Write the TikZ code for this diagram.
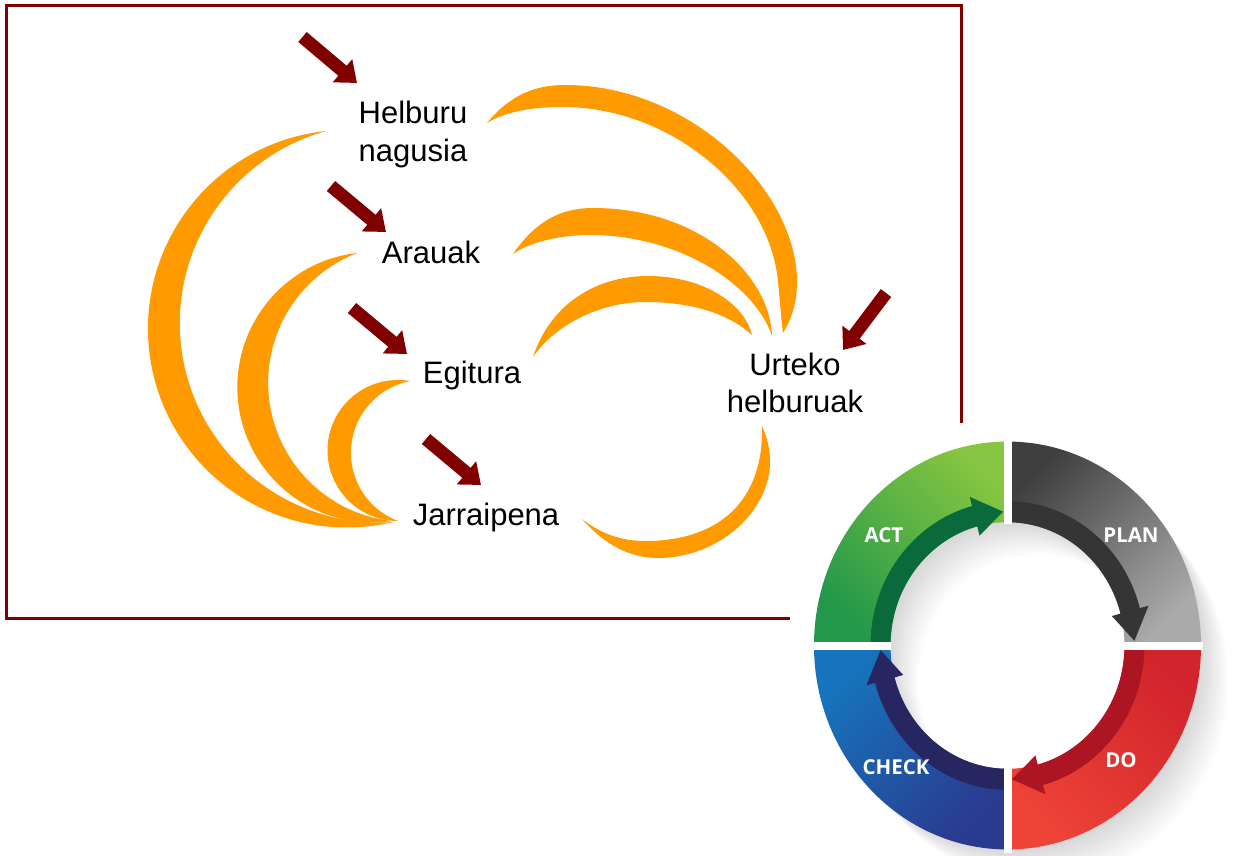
\documentclass[tikz,border=0pt]{standalone}
\usepackage{fontspec}
\setmainfont{Liberation Sans}
\newfontfamily\pdcafont{Open Sans}
\usetikzlibrary{arrows.meta}
\definecolor{maroonline}{RGB}{128,0,0}
\definecolor{crescent}{RGB}{255,155,0}
\definecolor{actlight}{HTML}{86C541}
\definecolor{actdarkg}{HTML}{23984A}
\definecolor{actarrow}{HTML}{0A6A3B}
\definecolor{planlight}{HTML}{AAAAAA}
\definecolor{plandark}{HTML}{3F3F3F}
\definecolor{planarrow}{HTML}{353535}
\definecolor{dolight}{HTML}{EE4337}
\definecolor{dodark}{HTML}{D2242C}
\definecolor{doarrow}{HTML}{AC1521}
\definecolor{checklight}{HTML}{1774BC}
\definecolor{checkdark}{HTML}{2A3A8F}
\definecolor{checkarrow}{HTML}{282660}
\tikzset{
  lbl/.style={font=\fontsize{31}{37.5}\selectfont, inner sep=0pt, text=black},
  marrow/.style={draw=maroonline, line width=13pt, -{Triangle[length=19pt, width=29pt]}},
  cres/.style={fill=crescent},
  pdca/.style={font=\pdcafont\bfseries\fontsize{20.5}{24}\selectfont, text=white, inner sep=0pt},
}
\begin{document}
\begin{tikzpicture}[x=1pt,y=-1pt]
\useasboundingbox (0,0) rectangle (1245,856);
\fill[white] (0,0) rectangle (1245,856);
% frame
\draw[maroonline, line width=3pt] (6.5,5.5) rectangle (961,618.5);
% crescents left
\fill[cres] (326,131) arc[start angle=264, end angle=76.5, radius=198.8] -- (393,522) arc[start angle=86, end angle=254.5, radius=199.3] -- cycle;
\fill[cres] (357,253) arc[start angle=263.4, end angle=81.7, radius=135.2] -- (392,521) arc[start angle=96.3, end angle=248.8, radius=139.1] -- cycle;
\fill[cres] (410,381) arc[start angle=279.8, end angle=90, radius=70.5] -- (398,521) arc[start angle=110.8, end angle=259, radius=73] -- cycle;
% crescents right
\fill[cres] (487,123) .. controls (510,95) and (535,85) .. (565,85) .. controls (690,85) and (797,190) .. (797,282) .. controls (797,305) and (790,322) .. (783,333)
  .. controls (781,318) and (780,300) .. (778,282) .. controls (770,190) and (670,107) .. (563,107) .. controls (530,107) and (505,112) .. (487,123) -- cycle;
\fill[cres] (513,254) .. controls (535,222) and (560,208) .. (593,208) .. controls (700,208) and (770,275) .. (772,336)
  .. controls (755,285) and (680,235) .. (590,235) .. controls (560,235) and (530,242) .. (513,254) -- cycle;
\fill[cres] (533,357) .. controls (550,305) and (595,276) .. (648,276) .. controls (705,276) and (745,305) .. (752,335)
  .. controls (730,315) and (695,302) .. (645,302) .. controls (600,302) and (555,325) .. (533,357) -- cycle;
\fill[cres] (582,519) .. controls (605,545) and (630,558) .. (658,558) .. controls (720,558) and (770,510) .. (770,462) .. controls (770,448) and (767,437) .. (762,426)
  .. controls (764,500) and (720,541) .. (645,541) .. controls (620,541) and (600,533) .. (582,519) -- cycle;
% labels
\node[lbl, align=center, anchor=north] (helburu) at (413,101) {Helburu\\nagusia};
\node[lbl, anchor=base] (arauak) at (431,263) {Arauak};
\node[lbl, anchor=base] (egitura) at (472,383.3) {Egitura};
\node[lbl, anchor=base] (jarraipena) at (486,525) {Jarraipena};
\node[lbl, align=center, anchor=north] (urteko) at (795,352.8) {Urteko\\helburuak};
% maroon arrows
\coordinate (a1s) at (302.5,37);  \coordinate (a1e) at (357,83);
\coordinate (a2s) at (331,186);   \coordinate (a2e) at (386,232);
\coordinate (a3s) at (352,308);   \coordinate (a3e) at (407,354);
\coordinate (a4s) at (426,439);   \coordinate (a4e) at (481,485);
\coordinate (a5s) at (886,293);   \coordinate (a5e) at (843,350);
\draw[marrow] (a1s) -- (a1e);
\draw[marrow] (a2s) -- (a2e);
\draw[marrow] (a3s) -- (a3e);
\draw[marrow] (a4s) -- (a4e);
\draw[marrow] (a5s) -- (a5e);
% PDCA picture area
\fill[white] (790,423) rectangle (1245,856);
\begin{scope}[shift={(1007.5,645.5)}, x=1pt, y=1.054pt]
  \foreach \k in {1,...,14}{
    \fill[black, opacity=0.011, even odd rule, shift={(2.2*\k,-2.4*\k)}] (0,0) circle[radius=190] (0,0) circle[radius=120];
  }
  \path[top color=actlight, bottom color=actdarkg, shading angle=-45]
    (90:193.5) arc[start angle=90, end angle=180, radius=193.5] -- (180:117) arc[start angle=180, end angle=90, radius=117] -- cycle;
  \path[top color=planlight, bottom color=plandark, shading angle=-135]
    (0:193.5) arc[start angle=0, end angle=90, radius=193.5] -- (90:117) arc[start angle=90, end angle=0, radius=117] -- cycle;
  \path[top color=dodark, bottom color=dolight, shading angle=-45]
    (270:193.5) arc[start angle=270, end angle=360, radius=193.5] -- (0:117) arc[start angle=360, end angle=270, radius=117] -- cycle;
  \path[top color=checklight, bottom color=checkdark, shading angle=45]
    (180:193.5) arc[start angle=180, end angle=270, radius=193.5] -- (270:117) arc[start angle=270, end angle=180, radius=117] -- cycle;
  % inner arrows
  \fill[actarrow] (180:137) arc[start angle=180, end angle=105, radius=137] -- (105:146) -- (92:127) -- (105:108) -- (105:117) arc[start angle=105, end angle=180, radius=117] -- cycle;
  \fill[planarrow] (90:137) arc[start angle=90, end angle=15, radius=137] -- (15:146) -- (2:127) -- (15:108) -- (15:117) arc[start angle=15, end angle=90, radius=117] -- cycle;
  \fill[doarrow] (0:137) arc[start angle=0, end angle=-75, radius=137] -- (-75:146) -- (-88:127) -- (-75:108) -- (-75:117) arc[start angle=-75, end angle=0, radius=117] -- cycle;
  \fill[checkarrow] (-90:137) arc[start angle=-90, end angle=-165, radius=137] -- (-165:146) -- (-178:127) -- (-165:108) -- (-165:117) arc[start angle=-165, end angle=-90, radius=117] -- cycle;
\end{scope}
% white gaps (only across the ring)
\fill[white] (1003.5,438) rectangle (1011.5,524);
\fill[white] (1003.5,767) rectangle (1011.5,853);
\fill[white] (811,641.5) rectangle (891,649.5);
\fill[white] (1124,641.5) rectangle (1203,649.5);
% PDCA labels
\node[pdca] (act) at (884,535) {ACT};
\node[pdca] (plan) at (1131,535) {PLAN};
\node[pdca] (do) at (1121,760) {DO};
\node[pdca] (check) at (896,767) {CHECK};
\end{tikzpicture}
\end{document}
